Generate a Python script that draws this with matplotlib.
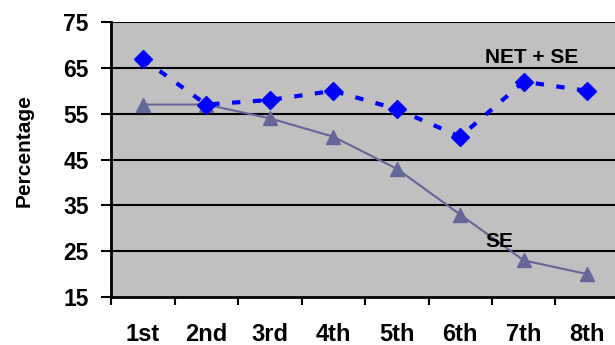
import matplotlib.pyplot as plt
import numpy as np

plt.rcParams['font.family'] = ['Liberation Sans', 'DejaVu Sans']

categories = ['1st', '2nd', '3rd', '4th', '5th', '6th', '7th', '8th']
net_se = [67, 57, 58, 60, 56, 50, 62, 60]
se = [57, 57, 54, 50, 43, 33, 23, 20]
yticks = [15, 25, 35, 45, 55, 65, 75]

fig = plt.figure(figsize=(6.15, 3.45), dpi=100)
ax = fig.add_axes([0.1805, 0.139, 0.826, 0.797])
ax.set_facecolor('#C0C0C0')

x = np.arange(len(categories))
ax.plot(x, net_se, color='#0000FF', linestyle=(0, (2, 3)), linewidth=3,
        marker='D', markersize=9, zorder=4)
ax.plot(x, se, color='#666699', linestyle='-', linewidth=1.5,
        marker='^', markersize=10.5, zorder=3)

ax.set_xlim(-0.5, 7.5)
ax.set_ylim(15, 75)
ax.set_yticks(yticks)
ax.set_yticklabels([str(v) for v in yticks], fontsize=16.5, fontweight='bold')
for v in yticks[1:]:
    ax.axhline(v, color='black', linewidth=1.5, zorder=1)

ax.set_xticks(np.arange(-0.5, 8, 1))
ax.set_xticklabels([])
ax.set_xticks(x, minor=True)
ax.set_xticklabels(categories, minor=True, fontsize=17, fontweight='bold')
ax.tick_params(axis='x', which='major', length=6, width=1.5, direction='out')
ax.tick_params(axis='x', which='minor', length=0, pad=19)
ax.tick_params(axis='y', length=7, width=1.5, direction='out', pad=9)

for s in ['top', 'right']:
    ax.spines[s].set_visible(False)
ax.spines['left'].set_linewidth(2)
ax.spines['bottom'].set_linewidth(2)

fig.text(24 / 615, 1 - 151 / 345, 'Percentage', rotation=90, fontsize=15,
         fontweight='bold', ha='center', va='center')

ax.text(6.13, 66.0, 'NET + SE', fontsize=15, fontweight='bold', va='baseline', ha='center')
ax.text(5.62, 25.9, 'SE', fontsize=15, fontweight='bold', va='baseline', ha='center')

plt.savefig('out.png', dpi=100)
